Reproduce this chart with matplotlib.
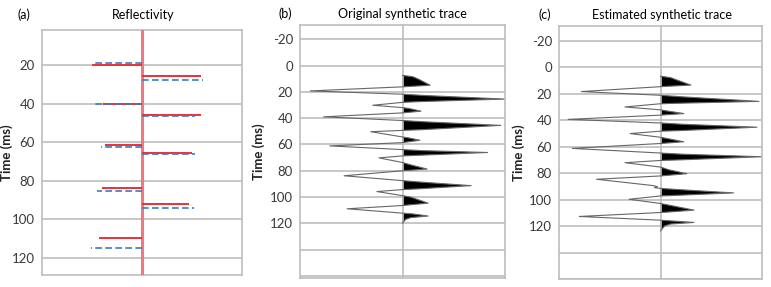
import numpy as np
import matplotlib.pyplot as plt

plt.rcParams['font.family'] = ['Lato', 'DejaVu Sans']

# --- reflectivity (a) ---
true_t = [20.0, 25.6, 40.0, 45.9, 61.6, 65.4, 83.9, 92.2, 109.9]
true_r = [-0.50, 0.59, -0.39, 0.59, -0.37, 0.50, -0.40, 0.47, -0.43]
est_t = [19.1, 27.5, 40.4, 46.3, 62.7, 66.3, 85.1, 94.3, 114.9]
est_r = [-0.49, 0.61, -0.49, 0.53, -0.41, 0.53, -0.45, 0.52, -0.51]

# --- original synthetic trace (b): vertices ---
orig_t = [7.5, 8.5, 10.5, 15.0, 16.2,
          19.3, 21.8,
          22.8, 25.5, 27.4, 28.0,
          30.2, 32.0,
          32.6, 34.7, 36.0,
          39.0, 41.8,
          42.8, 45.5, 48.8, 49.3,
          50.3, 54.3,
          55.0, 56.8, 58.6,
          61.1, 63.9,
          64.7, 66.1, 68.2, 68.7,
          70.2, 73.7,
          75.5, 78.7, 80.0,
          83.8, 87.5,
          88.5, 91.3, 93.8, 94.3,
          95.8, 98.9,
          100.0, 104.6, 106.4,
          108.9, 112.2,
          112.8, 114.4, 115.6, 117.0, 120.0]
orig_a = [0.0, 0.10, 0.16, 0.27, 0.0,
          -0.90, 0.0,
          0.22, 1.0, 0.18, 0.0,
          -0.29, 0.0,
          0.06, 0.18, 0.0,
          -0.77, 0.0,
          0.22, 0.96, 0.18, 0.0,
          -0.31, 0.0,
          0.06, 0.17, 0.0,
          -0.71, 0.0,
          0.20, 0.83, 0.16, 0.0,
          -0.23, 0.0,
          0.08, 0.24, 0.0,
          -0.57, 0.0,
          0.16, 0.67, 0.14, 0.0,
          -0.25, 0.0,
          0.08, 0.25, 0.0,
          -0.54, 0.0,
          0.10, 0.25, 0.08, 0.03, 0.0]

# --- estimated synthetic trace (c) ---
est_tr_t = [6.9, 8.0, 10.0, 13.6, 14.8,
            18.5, 21.3,
            22.5, 25.9, 27.3, 27.7,
            30.1, 32.3,
            33.2, 35.1, 36.3,
            39.5, 42.2,
            43.2, 45.4, 48.0, 48.4,
            50.2, 53.0,
            54.0, 56.4, 57.7,
            61.4, 64.9,
            65.8, 67.7, 70.1, 70.5,
            72.2, 75.5,
            77.5, 80.5, 82.2,
            84.7, 89.5, 90.3, 91.0, 91.6,
            92.5, 95.0, 96.9, 97.3,
            99.8, 103.0,
            104.5, 108.0, 109.6, 109.8,
            112.8, 115.6,
            116.2, 117.3, 118.5, 120.0, 123.6]
est_tr_a = [0.0, 0.10, 0.17, 0.30, 0.0,
            -0.78, 0.0,
            0.22, 0.97, 0.18, 0.0,
            -0.35, 0.0,
            0.07, 0.23, 0.0,
            -0.91, 0.0,
            0.22, 0.95, 0.18, 0.0,
            -0.30, 0.0,
            0.07, 0.23, 0.0,
            -0.87, 0.0,
            0.22, 1.0, 0.18, 0.0,
            -0.35, 0.0,
            0.08, 0.26, 0.0,
            -0.63, -0.07, -0.03, -0.06, 0.0,
            0.18, 0.72, 0.14, 0.0,
            -0.31, 0.0,
            0.10, 0.33, 0.05, 0.0,
            -0.80, 0.0,
            0.12, 0.33, 0.10, 0.04, 0.0]

grid_c = '#bdbdbd'

fig = plt.figure(figsize=(7.71, 2.87), dpi=100)


def setup(ax, ylim, gridticks, labelled, xlab):
    ax.set_xlim(-1, 1)
    ax.set_ylim(*ylim)
    ax.set_xticks([])
    ax.set_yticks(gridticks)
    ax.set_yticklabels([str(v) if v in labelled else '' for v in gridticks])
    ax.tick_params(axis='y', length=0, pad=5, labelsize=9.5, labelcolor='#3a3a3a')
    ax.grid(axis='y', color=grid_c, lw=1.2)
    ax.set_axisbelow(True)
    for s in ax.spines.values():
        s.set_color(grid_c)
        s.set_linewidth(1.2)
    ax.set_ylabel('Time (ms)', fontsize=9.5, fontweight='bold', color='#222222')
    ax.yaxis.set_label_coords(xlab, 0.5)


# (a) Reflectivity
ax1 = fig.add_axes([42/771, 1-275/287, 200/771, 245/287])
setup(ax1, (129, 1.7), list(range(20, 121, 20)), list(range(20, 121, 20)), -0.145)
ax1.axvline(0, color='#f07880', lw=2.2, zorder=3)
ax1.hlines(true_t, 0, true_r, color='#e8303a', lw=1.4, zorder=4)
ax1.hlines(est_t, 0, est_r, color='#3a7cc4', lw=1.2, linestyles=(0, (4, 2)), zorder=4)

# (b) original synthetic trace
ax2 = fig.add_axes([300/771, 1-278/287, 205/771, 253/287])
setup(ax2, (161.5, -30.8), list(range(-20, 161, 20)), list(range(-20, 121, 20)), -0.171)
ax2.axvline(0, color=grid_c, lw=1.2)
oa = np.array(orig_a)
ax2.fill_betweenx(orig_t, 0, oa, where=oa > 0, interpolate=True, color='black', lw=0)
ax2.plot(oa, orig_t, color='#666666', lw=0.8)

# (c) estimated synthetic trace
ax3 = fig.add_axes([559/771, 1-279/287, 203/771, 253/287])
setup(ax3, (160, -31), list(range(-20, 161, 20)), list(range(-20, 121, 20)), -0.167)
ax3.axvline(0, color=grid_c, lw=1.2)
ea = np.array(est_tr_a)
ax3.fill_betweenx(est_tr_t, 0, ea, where=ea > 0, interpolate=True, color='black', lw=0)
ax3.plot(ea, est_tr_t, color='#666666', lw=0.8)

# titles and panel letters
fig.text(24/771, 1-15/287, '(a)', fontsize=9, ha='center', va='center')
fig.text(143/771, 1-15/287, 'Reflectivity', fontsize=9, ha='center', va='center')
fig.text(285/771, 1-14/287, '(b)', fontsize=9, ha='center', va='center')
fig.text(402/771, 1-14/287, 'Original synthetic trace', fontsize=9, ha='center', va='center')
fig.text(545/771, 1-15/287, '(c)', fontsize=9, ha='center', va='center')
fig.text(662/771, 1-15/287, 'Estimated synthetic trace', fontsize=9, ha='center', va='center')

fig.savefig('out.png', dpi=100)
